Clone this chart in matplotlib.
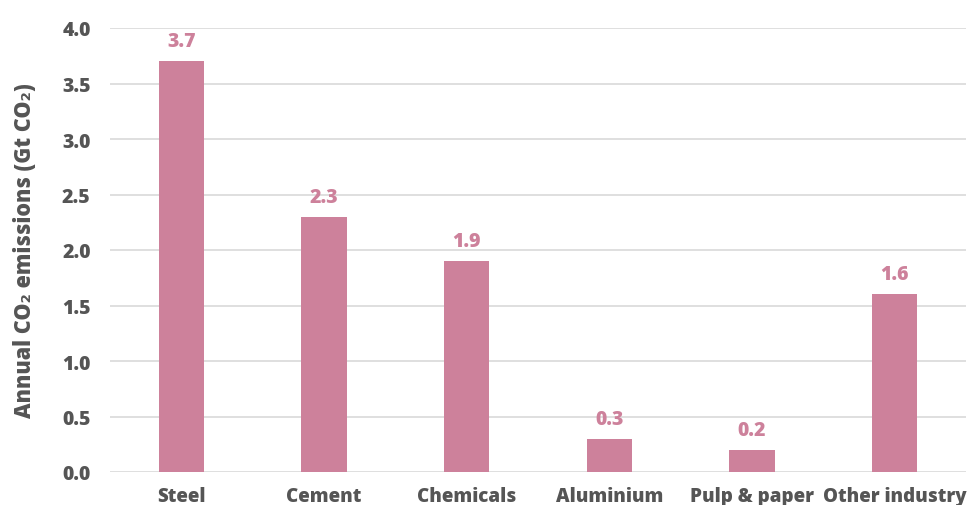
import matplotlib
matplotlib.use("Agg")
import matplotlib.pyplot as plt

categories = ["Steel", "Cement", "Chemicals", "Aluminium", "Pulp & paper", "Other industry"]
values = [3.7, 2.3, 1.9, 0.3, 0.2, 1.6]
yticks = [0.0, 0.5, 1.0, 1.5, 2.0, 2.5, 3.0, 3.5, 4.0]

bar_color = "#CD819B"
text_color = "#555555"
font = ["Open Sans", "DejaVu Sans"]
fs = 13.5

fig = plt.figure(figsize=(9.78, 5.06), dpi=100)
ax = fig.add_axes([110/978, 33/506, (966-110)/978, (473-29)/506])

x = list(range(len(categories)))
ax.bar(x, values, width=0.32, color=bar_color, zorder=3)
for xi, v in zip(x, values):
    ax.text(xi, v + 0.09, f"{v:.1f}", ha="center", va="bottom", color=bar_color,
            fontsize=fs + 0.5, fontweight="heavy", family=font)

ax.set_xlim(-0.5, len(categories) - 0.5)
ax.set_ylim(0, 4.0)
ax.set_yticks(yticks)
ax.set_yticklabels([f"{t:.1f}" for t in yticks], family=font, fontsize=fs + 0.5,
                   fontweight="heavy", color=text_color)
ax.set_xticks(x)
ax.set_xticklabels(categories, family=font, fontsize=fs, fontweight="heavy", color=text_color)
ax.tick_params(axis="both", length=0)
ax.tick_params(axis="y", pad=14)
ax.tick_params(axis="x", pad=10)
ax.grid(axis="y", color="#D9D9D9", linewidth=1.2, zorder=0)
for s in ax.spines.values():
    s.set_visible(False)
ax.set_ylabel("Annual CO₂ emissions (Gt CO₂)", family=font, fontsize=15.5,
              fontweight="heavy", color=text_color, labelpad=18)

fig.savefig("out.png", dpi=100)
